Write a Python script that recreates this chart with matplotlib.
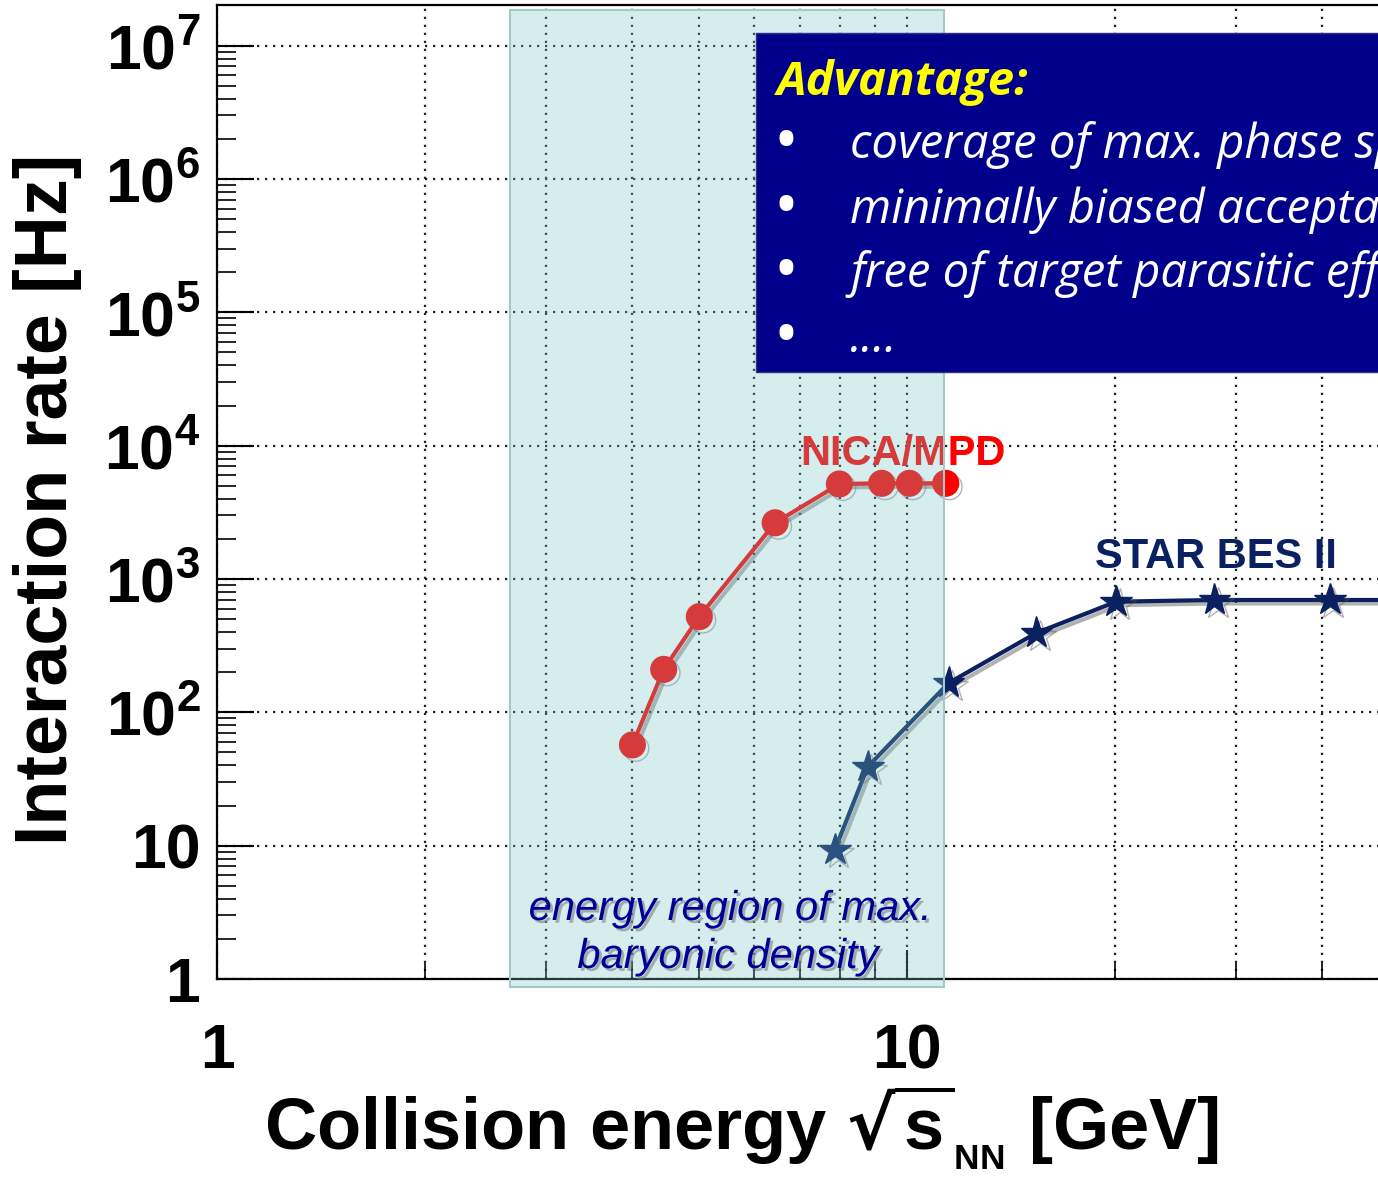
import matplotlib
matplotlib.use("Agg")
import matplotlib.pyplot as plt
from matplotlib import patheffects as pe
from matplotlib.patches import Rectangle
from matplotlib.ticker import FixedLocator, FuncFormatter, NullFormatter
from matplotlib import font_manager as fm

# ---------------- data ----------------
nica_energy = [4.0, 4.44, 5.0, 6.44, 7.98, 9.19, 10.08, 11.38]
nica_rate = [57, 210, 522, 2640, 5160, 5220, 5220, 5220]

star_energy = [7.86, 8.77, 11.49, 15.4, 20.1, 27.9, 41.0, 62.4]
star_rate = [9.3, 39, 166, 394, 676, 696, 696, 696]

region_energy = [2.66, 11.3]           # shaded "max. baryonic density" band
x_major = [1, 10]
x_major_labels = ["1", "10"]
y_major = [1, 10, 1e2, 1e3, 1e4, 1e5, 1e6, 1e7]
y_major_labels = ["1", "10", r"$\mathdefault{10^{2}}$", r"$\mathdefault{10^{3}}$",
                  r"$\mathdefault{10^{4}}$", r"$\mathdefault{10^{5}}$",
                  r"$\mathdefault{10^{6}}$", r"$\mathdefault{10^{7}}$"]
box_title = "Advantage:"
box_items = ["coverage of max. phase space",
             "minimally biased acceptance",
             "free of target parasitic effects",
             "...."]

# ---------------- fonts ----------------
families = {f.name for f in fm.fontManager.ttflist}
tickfam = "Liberation Sans Narrow" if "Liberation Sans Narrow" in families else "Liberation Sans"
boxfam = "Open Sans" if "Open Sans" in families else "Lato"
plt.rcParams["font.family"] = ["Liberation Sans", "DejaVu Sans"]
plt.rcParams["font.weight"] = "bold"

W_PX, H_PX = 1378, 1179
fig = plt.figure(figsize=(W_PX / 100, H_PX / 100), dpi=100)
fig.patch.set_facecolor("white")

# axes: x=1 at px 217, decade = 690 px ; y=1 at px 979, decade = 133.33 px
x0, ybot, ytop = 217, 979, 5
x_right_px = 217 + 2 * 690
ax = fig.add_axes([x0 / W_PX, 1 - ybot / H_PX, (x_right_px - x0) / W_PX, (ybot - ytop) / H_PX])
ax.set_xscale("log")
ax.set_yscale("log")
ax.set_xlim(1, 100)
ax.set_ylim(1, 10 ** ((ybot - ytop) / 133.33))

for s in ["left", "bottom", "top"]:
    ax.spines[s].set_linewidth(1.6)
ax.spines["right"].set_visible(False)

ax.xaxis.set_major_locator(FixedLocator(x_major))
ax.xaxis.set_major_formatter(FuncFormatter(lambda v, p: x_major_labels[x_major.index(min(x_major, key=lambda m: abs(m - v)))]))
ax.xaxis.set_minor_locator(FixedLocator([m * d for d in (1, 10) for m in range(2, 10)]))
ax.xaxis.set_minor_formatter(NullFormatter())
ax.yaxis.set_major_locator(FixedLocator(y_major))
ax.yaxis.set_major_formatter(FuncFormatter(lambda v, p: y_major_labels[y_major.index(min(y_major, key=lambda m: abs(m - v)))]))
ax.yaxis.set_minor_locator(FixedLocator([m * 10 ** d for d in range(0, 7) for m in range(2, 10)]))
ax.yaxis.set_minor_formatter(NullFormatter())

ax.tick_params(axis="x", which="major", direction="in", length=21, width=1.5, pad=31,
               labelsize=45, top=False, labelfontfamily=tickfam)
ax.tick_params(axis="x", which="minor", direction="in", length=11.5, width=1.2, top=False)
ax.tick_params(axis="y", which="major", direction="in", length=26.5, width=1.5, pad=12,
               labelsize=45, right=False, labelfontfamily=tickfam)
ax.tick_params(axis="y", which="minor", direction="in", length=13.5, width=1.2, right=False)

dot = (0, (1, 2.6))
ax.grid(True, which="major", axis="y", color="#222222", ls=dot, lw=1.6)
ax.grid(True, which="both", axis="x", color="#222222", ls=dot, lw=1.6)

# ---------------- series ----------------
shadow = [pe.SimpleLineShadow(offset=(2.5, -2.5), shadow_color="#555555", alpha=0.45), pe.Normal()]
ax.plot(nica_energy, nica_rate, color="#ff0000", lw=3, marker="o", ms=18.5,
        mec="#ff0000", zorder=3, path_effects=shadow)
ax.plot(star_energy, star_rate, color="#0a2060", lw=3, marker="*", ms=24,
        mec="#0a2060", zorder=3, path_effects=shadow)

ax.text(7.0, 7160, "NICA/MPD", color="#ff0000", fontsize=30, fontweight="bold",
        ha="left", va="baseline", zorder=4)
ax.text(18.7, 1209, "STAR BES II", color="#0a2060", fontsize=30, fontweight="bold",
        ha="left", va="baseline", zorder=4)

# translucent band drawn over the data
band = Rectangle((region_energy[0], 0.871), region_energy[1] - region_energy[0], 1.85e7,
                 facecolor=(0.478, 0.773, 0.773, 0.30), edgecolor="#a3c9c9", lw=1.5,
                 zorder=5, clip_on=False)
ax.add_patch(band)

tshadow = [pe.SimplePatchShadow(offset=(2, -2), shadow_rgbFace="#808080", alpha=0.6), pe.Normal()]
ax.text(5.54, 2.77, "energy region of max.", color="#000099", fontsize=30, style="italic",
        fontweight="normal", ha="center", va="baseline", zorder=6, path_effects=tshadow)
ax.text(5.50, 1.21, "baryonic density", color="#000099", fontsize=30, style="italic",
        fontweight="normal", ha="center", va="baseline", zorder=6, path_effects=tshadow)

# ---------------- axis labels ----------------
ax.set_xlabel(r"Collision energy $\sqrt{\mathdefault{s}}_{{}_{\mathdefault{NN}}}$ [GeV]",
              fontsize=52, fontweight="bold")
ax.xaxis.set_label_coords((741 - x0) / (x_right_px - x0), (ybot - 1150) / (ybot - ytop))
ax.xaxis.label.set_va("baseline")
ax.xaxis.label.set_ha("center")

ax.set_ylabel("Interaction rate [Hz]", fontsize=53, fontweight="bold")
ax.yaxis.set_label_coords((47 - x0) / (x_right_px - x0), (ybot - 499) / (ybot - ytop))
ax.yaxis.label.set_va("center")
ax.yaxis.label.set_ha("center")
ax.yaxis.label.set_rotation_mode("anchor")

# ---------------- blue info box ----------------
box = Rectangle((756 / W_PX, 1 - 372 / H_PX), 0.47, 339 / H_PX, transform=fig.transFigure,
                facecolor="#00008b", edgecolor="#30308a", lw=1, zorder=10)
fig.add_artist(box)
fig.text(777 / W_PX, 1 - 95 / H_PX, box_title, color="#ffff00", fontsize=34, family=boxfam,
         style="italic", fontweight="bold", va="baseline", ha="left", zorder=11)
for i, item in enumerate(box_items):
    b = 158 + i * 64.7
    fig.text(786 / W_PX, 1 - (b + 5) / H_PX, "\u2022", color="white", fontsize=48, family=boxfam,
             fontweight="normal", ha="center", va="baseline", zorder=11)
    fig.text(850 / W_PX, 1 - b / H_PX, item, color="white", fontsize=34, family=boxfam,
             style="italic", fontweight="normal", ha="left", va="baseline", zorder=11)

fig.savefig("out.png", dpi=100)
